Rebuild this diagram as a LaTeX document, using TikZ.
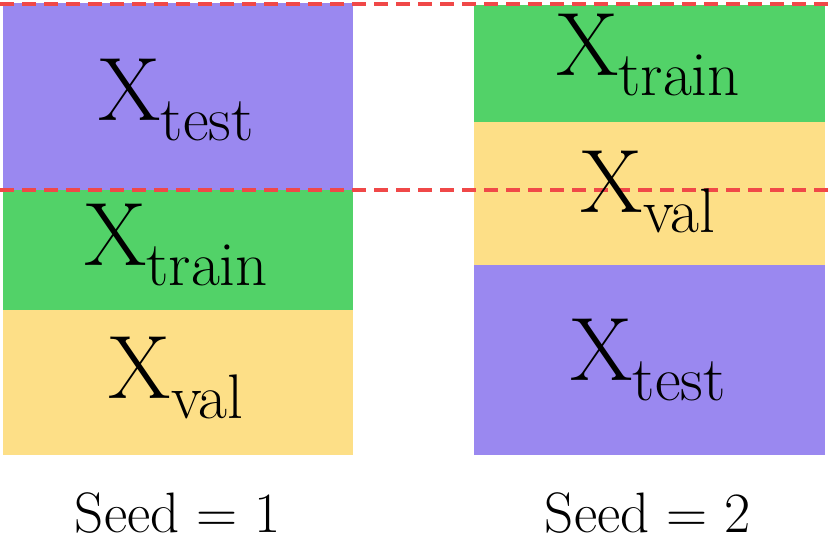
\documentclass[tikz,border=0pt]{standalone}
\definecolor{cpurple}{HTML}{9A88F0}
\definecolor{cgreen}{HTML}{52D268}
\definecolor{cyellow}{HTML}{FDDF87}
\definecolor{cred}{HTML}{F04848}
\newcommand{\xsub}[1]{X\raisebox{-0.22em}{\fontsize{63}{68}\selectfont #1}}
\begin{document}
\begin{tikzpicture}[x=1pt,y=-1pt,
  lbl/.style={font=\fontsize{90}{100}\selectfont, inner sep=0pt},
  seedlbl/.style={font=\fontsize{57}{64}\selectfont, inner sep=0pt},
  dline/.style={cred, line width=4pt, dash pattern=on 14pt off 8pt}]
\useasboundingbox (0,0) rectangle (830,543);
\fill[cpurple] (3,3) rectangle (353,190);
\fill[cgreen] (3,190) rectangle (353,310);
\fill[cyellow] (3,310) rectangle (353,455);
\fill[cgreen] (474,5) rectangle (825,122);
\fill[cyellow] (474,122) rectangle (825,265);
\fill[cpurple] (474,265) rectangle (825,455);
\coordinate (a1) at (0,4); \coordinate (b1) at (830,4);
\coordinate (a2) at (0,190); \coordinate (b2) at (830,190);
\draw[dline] (a1) -- (b1);
\draw[dline] (a2) -- (b2);
\node[lbl] (lt) at (176,100) {\xsub{test}};
\node[lbl] (ltr) at (176,245) {\xsub{train}};
\node[lbl] (lv) at (176,378) {\xsub{val}};
\node[lbl] (rtr) at (648,55) {\xsub{train}};
\node[lbl] (rv) at (648,192) {\xsub{val}};
\node[lbl] (rt) at (648,360) {\xsub{test}};
\node[seedlbl] (s1) at (178,513) {Seed = 1};
\node[seedlbl] (s2) at (648,513) {Seed = 2};
\end{tikzpicture}
\end{document}
